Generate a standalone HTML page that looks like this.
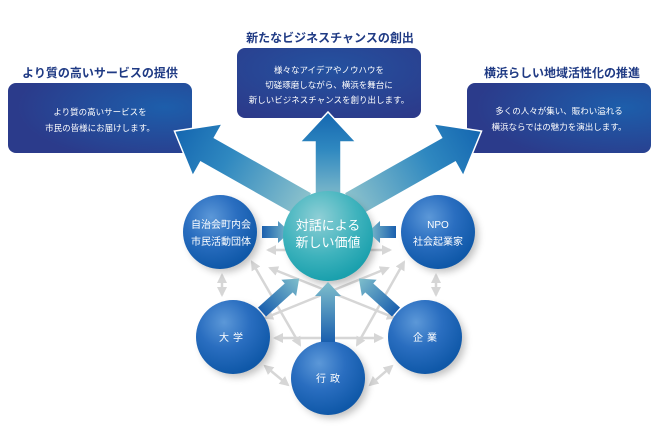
<!DOCTYPE html>
<html><head><meta charset="utf-8"><style>
body{margin:0;background:#fff;width:660px;height:440px;overflow:hidden;font-family:"Liberation Sans","Noto Sans CJK JP",sans-serif}
</style></head><body>
<svg width="660" height="440" viewBox="0 0 660 440" xmlns="http://www.w3.org/2000/svg" font-family="Liberation Sans, Noto Sans CJK JP, sans-serif">
<defs>
<radialGradient id="box" cx="0.85" cy="0.35" r="0.8"><stop offset="0" stop-color="#1d5eab"/><stop offset="1" stop-color="#2b3b8b"/></radialGradient>
<radialGradient id="boxc" cx="0.5" cy="0.3" r="0.8"><stop offset="0" stop-color="#2452a0"/><stop offset="1" stop-color="#2c3a8a"/></radialGradient>
<radialGradient id="ball" cx="0.38" cy="0.3" r="0.7"><stop offset="0" stop-color="#5c98d8"/><stop offset="0.5" stop-color="#2a6ec0"/><stop offset="1" stop-color="#0f58a8"/></radialGradient>
<radialGradient id="ballc" cx="0.4" cy="0.3" r="0.7"><stop offset="0" stop-color="#8fcfd6"/><stop offset="0.6" stop-color="#3fb3bd"/><stop offset="1" stop-color="#1aa0ad"/></radialGradient>
<linearGradient id="ag" x1="0" y1="0" x2="1" y2="0"><stop offset="0" stop-color="#8cc2cc"/><stop offset="0.6" stop-color="#2f88c0"/><stop offset="1" stop-color="#1466b0"/></linearGradient>
<linearGradient id="sg" x1="0" y1="0" x2="1" y2="0"><stop offset="0" stop-color="#1a5fae"/><stop offset="1" stop-color="#7fbfcc"/></linearGradient>
<filter id="sh" x="-30%" y="-30%" width="160%" height="160%"><feGaussianBlur stdDeviation="4"/></filter>
<marker id="m" viewBox="0 0 10 10" refX="8" refY="5" markerWidth="4" markerHeight="4" orient="auto-start-reverse"><path d="M0,0L10,5L0,10z" fill="#d6d6d6"/></marker>
</defs>

<g fill="#1f3a84" font-weight="bold" font-size="12" text-anchor="middle">
<text x="100" y="77">より質の高いサービスの提供</text>
<text x="330" y="42">新たなビジネスチャンスの創出</text>
<text x="562" y="77">横浜らしい地域活性化の推進</text>
</g>
<rect x="8" y="83" width="184" height="70" rx="8" fill="url(#box)"/>
<rect x="237" y="48" width="184" height="70" rx="8" fill="url(#boxc)"/>
<rect x="467" y="83" width="184" height="70" rx="8" fill="url(#box)"/>
<g fill="#fff" font-size="8.5" text-anchor="middle">
<text x="100" y="115">より質の高いサービスを</text>
<text x="100" y="131">市民の皆様にお届けします。</text>
<text x="329" y="73">様々なアイデアやノウハウを</text>
<text x="329" y="88">切磋琢磨しながら、横浜を舞台に</text>
<text x="329" y="103">新しいビジネスチャンスを創り出します。</text>
<text x="559" y="114">多くの人々が集い、賑わい溢れる</text>
<text x="559" y="130">横浜ならではの魅力を演出します。</text>
</g>

<g stroke="#fff" stroke-width="1.5" fill="url(#ag)">
<polygon transform="translate(328,205) rotate(-90)" points="0,-13 63,-13 63,-28 93,0 63,28 63,13 0,13"/>
<polygon transform="translate(305,205) rotate(-150.5)" points="0,-14 112,-14 112,-30 150,0 112,30 112,14 0,14"/>
<polygon transform="translate(351,205) rotate(-29.5)" points="0,-14 112,-14 112,-30 150,0 112,30 112,14 0,14"/>
</g>

<g stroke="#d6d6d6" stroke-width="2.5" fill="none" marker-start="url(#m)" marker-end="url(#m)">
<line x1="268" y1="250" x2="390" y2="250"/>
<line x1="275" y1="338" x2="382" y2="338"/>
<line x1="222" y1="275" x2="222" y2="295"/>
<line x1="436" y1="275" x2="436" y2="295"/>
<line x1="265" y1="366" x2="288" y2="385"/>
<line x1="392" y1="366" x2="370" y2="385"/>
<line x1="252" y1="262" x2="300" y2="345"/>
<line x1="404" y1="262" x2="357" y2="345"/>
<line x1="270" y1="268" x2="395" y2="318"/>
<line x1="388" y1="268" x2="265" y2="318"/>
</g>

<g fill="#000" opacity="0.25" filter="url(#sh)">
<circle cx="224" cy="236" r="36"/><circle cx="442" cy="236" r="36"/>
<circle cx="237" cy="341" r="36"/><circle cx="429" cy="341" r="36"/>
<circle cx="332" cy="382" r="36"/><circle cx="332" cy="241" r="44"/>
</g>
<circle cx="220" cy="232" r="37" fill="url(#ball)"/>
<circle cx="438" cy="232" r="37" fill="url(#ball)"/>
<circle cx="233" cy="337" r="37" fill="url(#ball)"/>
<circle cx="425" cy="337" r="37" fill="url(#ball)"/>
<circle cx="328" cy="378" r="37" fill="url(#ball)"/>

<g fill="url(#sg)">
<polygon transform="translate(262,232)" points="0,-6 16,-6 16,-11 28,0 16,11 16,6 0,6"/>
<polygon transform="translate(396,232) rotate(180)" points="0,-6 16,-6 16,-11 28,0 16,11 16,6 0,6"/>
<polygon transform="translate(262,312) rotate(-42)" points="0,-6 36,-6 36,-11 50,0 36,11 36,6 0,6"/>
<polygon transform="translate(396,312) rotate(-138)" points="0,-6 36,-6 36,-11 50,0 36,11 36,6 0,6"/>
<polygon transform="translate(328,342) rotate(-90)" points="0,-7 46,-7 46,-13 60,0 46,13 46,7 0,7"/>
</g>

<circle cx="328" cy="236" r="45" fill="url(#ballc)"/>

<g fill="#fff" text-anchor="middle">
<text x="328" y="230" font-size="13">対話による</text>
<text x="328" y="247" font-size="13">新しい価値</text>
<g font-size="10">
<text x="221" y="228">自治会町内会</text>
<text x="221" y="245">市民活動団体</text>
<text x="438" y="228">NPO</text>
<text x="438" y="245">社会起業家</text>
<text x="233" y="341" letter-spacing="4">大学</text>
<text x="427" y="341" letter-spacing="4">企業</text>
<text x="330" y="382" letter-spacing="4">行政</text>
</g></g>
</svg>
</body></html>
